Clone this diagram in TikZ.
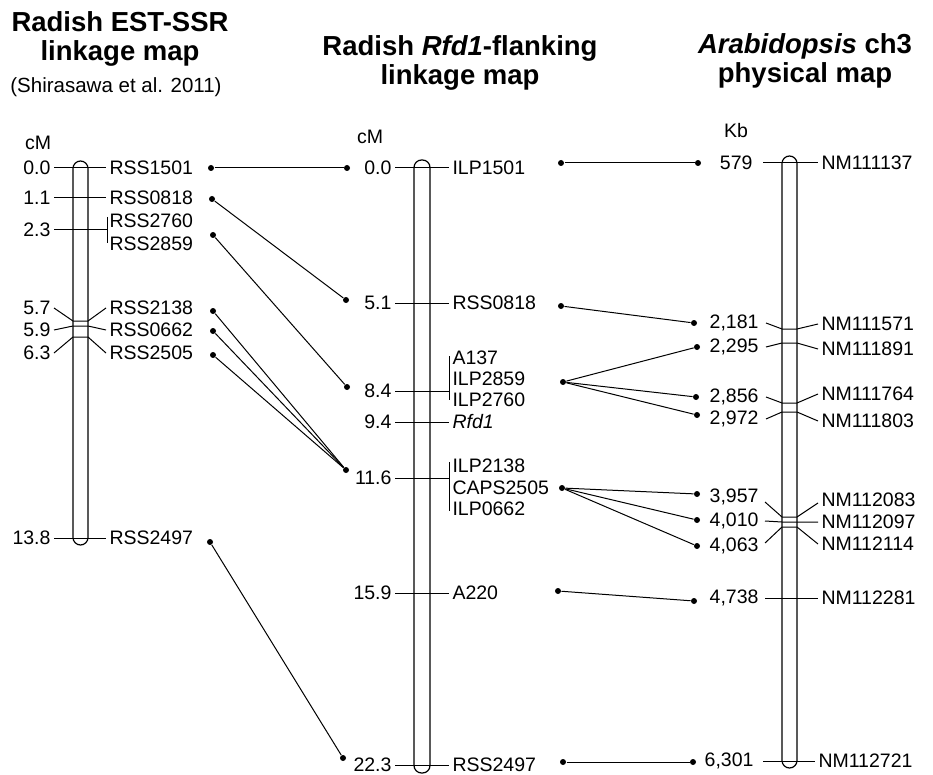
\documentclass[tikz,border=0pt]{standalone}
\usepackage{fontspec}
\setmainfont{Liberation Sans}
\usepackage{tikz}
\usetikzlibrary{positioning}

\begin{document}
\begin{tikzpicture}[
                    x=1pt, y=-1pt, line width=1pt,
                    num/.style={anchor=east, inner sep=3pt, font=\fontsize{19.5}{22}\selectfont},
                    mk/.style={anchor=west, inner sep=3pt, font=\fontsize{19.5}{22}\selectfont},
                    ttl/.style={anchor=base, inner sep=0pt, font=\fontsize{27.5}{30}\selectfont\bfseries},
                    sub/.style={anchor=base, inner sep=0pt, font=\fontsize{20.5}{24}\selectfont},
                    dot/.style={circle, fill, inner sep=0pt, minimum size=6pt},
                    chrom/.style={rounded corners=7.5pt, line width=1.2pt}
                ]
                    \useasboundingbox (0,0) rectangle (933,775);

                    % titles
                    \node[ttl] (t1a) at (120,32) {Radish EST-SSR};
                    \node[ttl] (t1b) at (120,61) {linkage map};
                    \node[sub] (t1c) at (116,93) {(Shirasawa et al. 2011)};
                    \node[ttl] (t2a) at (460,56) {Radish \textit{Rfd1}-flanking};
                    \node[ttl] (t2b) at (460,85) {linkage map};
                    \node[ttl] (t3a) at (805,54) {\textit{Arabidopsis} ch3};
                    \node[ttl] (t3b) at (805,83) {physical map};

                    \node[mk, anchor=center] (cm1) at (38,143) {cM};
                    \node[mk, anchor=center] (cm2) at (370,137) {cM};
                    \node[mk, anchor=center] (kb3) at (736,131) {Kb};

                    % EST-SSR map
                    \draw[chrom] (73,161) rectangle (88,545);
                    \node[num] (a00) at (54,168) {0.0};
                    \node[num] (a11) at (54,198) {1.1};
                    \node[num] (a23) at (54,230) {2.3};
                    \node[num] (a57) at (54,308) {5.7};
                    \node[num] (a59) at (54,330) {5.9};
                    \node[num] (a63) at (54,353) {6.3};
                    \node[num] (a138) at (54,538) {13.8};
                    \node[mk] (rss1501) at (106,168) {RSS1501};
                    \node[mk] (rss0818) at (106,198) {RSS0818};
                    \node[mk] (rss2760) at (106,221) {RSS2760};
                    \node[mk] (rss2859) at (106,244) {RSS2859};
                    \node[mk] (rss2138) at (106,308) {RSS2138};
                    \node[mk] (rss0662) at (106,330) {RSS0662};
                    \node[mk] (rss2505) at (106,353) {RSS2505};
                    \node[mk] (rss2497) at (106,538) {RSS2497};
                    \draw (a00) -- (rss1501);
                    \draw (a11) -- (rss0818);
                    \draw (a23) -- (107,230);
                    \draw (107,217) -- (107,243);
                    \draw (a57.east) -- (73,321) -- (88,321) -- (rss2138.west);
                    \draw (a59.east) -- (73,326) -- (88,326) -- (rss0662.west);
                    \draw (a63.east) -- (73,337) -- (88,337) -- (rss2505.west);
                    \draw (a138) -- (rss2497);

                    % Rfd1-flanking map
                    \draw[chrom] (414,160) rectangle (430,773);
                    \node[num] (b00) at (395,168) {0.0};
                    \node[num] (b51) at (395,303) {5.1};
                    \node[num] (b84) at (395,391) {8.4};
                    \node[num] (b94) at (395,422) {9.4};
                    \node[num] (b116) at (395,478) {11.6};
                    \node[num] (b159) at (395,593) {15.9};
                    \node[num] (b223) at (395,765) {22.3};
                    \node[mk] (ilp1501) at (449,168) {ILP1501};
                    \node[mk] (mrss0818) at (449,303) {RSS0818};
                    \node[mk] (a137) at (449,358) {A137};
                    \node[mk] (ilp2859) at (449,379) {ILP2859};
                    \node[mk] (ilp2760) at (449,400) {ILP2760};
                    \node[mk] (rfd1) at (449,422) {\textit{Rfd1}};
                    \node[mk] (ilp2138) at (449,466) {ILP2138};
                    \node[mk] (caps2505) at (449,488) {CAPS2505};
                    \node[mk] (ilp0662) at (449,509) {ILP0662};
                    \node[mk] (a220) at (449,593) {A220};
                    \node[mk] (mrss2497) at (449,765) {RSS2497};
                    \draw (b00) -- (ilp1501);
                    \draw (b51) -- (mrss0818);
                    \draw (b84) -- (449,391);
                    \draw (449,356) -- (449,400);
                    \draw (b94) -- (rfd1);
                    \draw (b116) -- (449,478);
                    \draw (449,462) -- (449,511);
                    \draw (b159) -- (a220);
                    \draw (b223) -- (mrss2497);

                    % Arabidopsis physical map
                    \draw[chrom] (782,156) rectangle (797,768);
                    \node[num] (c579) at (756,163) {579};
                    \node[num] (c2181) at (762,323) {2,181};
                    \node[num] (c2295) at (762,347) {2,295};
                    \node[num] (c2856) at (762,397) {2,856};
                    \node[num] (c2972) at (762,419) {2,972};
                    \node[num] (c3957) at (762,497) {3,957};
                    \node[num] (c4010) at (762,521) {4,010};
                    \node[num] (c4063) at (762,546) {4,063};
                    \node[num] (c4738) at (762,598) {4,738};
                    \node[num] (c6301) at (757,761) {6,301};
                    \node[mk] (nm111137) at (818,163) {NM111137};
                    \node[mk] (nm111571) at (818,324) {NM111571};
                    \node[mk] (nm111891) at (818,349) {NM111891};
                    \node[mk] (nm111764) at (818,394) {NM111764};
                    \node[mk] (nm111803) at (818,421) {NM111803};
                    \node[mk] (nm112083) at (818,500) {NM112083};
                    \node[mk] (nm112097) at (818,522) {NM112097};
                    \node[mk] (nm112114) at (818,544) {NM112114};
                    \node[mk] (nm112281) at (818,598) {NM112281};
                    \node[mk] (nm112721) at (815,761) {NM112721};
                    \draw ([xshift=7pt]c579.east) -- (nm111137);
                    \draw ([xshift=4pt]c2181.east) -- (782,329) -- (797,329) -- (nm111571.west);
                    \draw ([xshift=4pt]c2295.east) -- (782,343) -- (797,343) -- (nm111891.west);
                    \draw ([xshift=4pt]c2856.east) -- (782,403) -- (797,403) -- (nm111764.west);
                    \draw ([xshift=4pt]c2972.east) -- (782,412) -- (797,412) -- (nm111803.west);
                    \draw ([xshift=3pt,yshift=-5pt]c3957.east) -- (782,517) -- (797,517) -- ([yshift=-3pt]nm112083.west);
                    \draw ([xshift=3pt]c4010.east) -- (782,522) -- (797,522) -- (nm112097.west);
                    \draw ([xshift=3pt,yshift=3pt]c4063.east) -- (782,527) -- (797,527) -- (nm112114.west);
                    \draw ([xshift=3pt]c4738.east) -- (nm112281);
                    \draw ([xshift=6pt]c6301.east) -- (nm112721.west);

                    % dots
                    \node[dot] (p1) at (211,168) {};
                    \node[dot] (p2) at (212,199) {};
                    \node[dot] (p3) at (213,235) {};
                    \node[dot] (p4) at (213,311) {};
                    \node[dot] (p5) at (213,331) {};
                    \node[dot] (p6) at (213,355) {};
                    \node[dot] (p7) at (210,542) {};
                    \node[dot] (q1) at (347,168) {};
                    \node[dot] (q2) at (346,300) {};
                    \node[dot] (q3) at (347,387) {};
                    \node[dot] (q4) at (346,470) {};
                    \node[dot] (q5) at (343,758) {};
                    \node[dot] (r1) at (561,163) {};
                    \node[dot] (r2) at (561,306) {};
                    \node[dot] (r3) at (563,382) {};
                    \node[dot] (r4) at (562,488) {};
                    \node[dot] (r5) at (558,591) {};
                    \node[dot] (r6) at (563,762) {};
                    \node[dot] (s1) at (698,163) {};
                    \node[dot] (s2) at (694,323) {};
                    \node[dot] (s3) at (697,347) {};
                    \node[dot] (s4) at (696,397) {};
                    \node[dot] (s5) at (697,415) {};
                    \node[dot] (s6) at (697,494) {};
                    \node[dot] (s7) at (697,520) {};
                    \node[dot] (s8) at (697,546) {};
                    \node[dot] (s9) at (694,601) {};
                    \node[dot] (s10) at (693,762) {};

                    \draw (p1) -- (q1);
                    \draw (p2) -- (q2);
                    \draw (p3) -- (q3);
                    \draw (p4) -- (q4);
                    \draw (p5) -- (q4);
                    \draw (p6) -- (q4);
                    \draw (p7) -- (q5);
                    \draw (r1) -- (s1);
                    \draw (r2) -- (s2);
                    \draw (r3) -- (s3);
                    \draw (r3) -- (s4);
                    \draw (r3) -- (s5);
                    \draw (r4) -- (s6);
                    \draw (r4) -- (s7);
                    \draw (r4) -- (s8);
                    \draw (r5) -- (s9);
                    \draw (r6) -- (s10);
                \end{tikzpicture}
\end{document}
